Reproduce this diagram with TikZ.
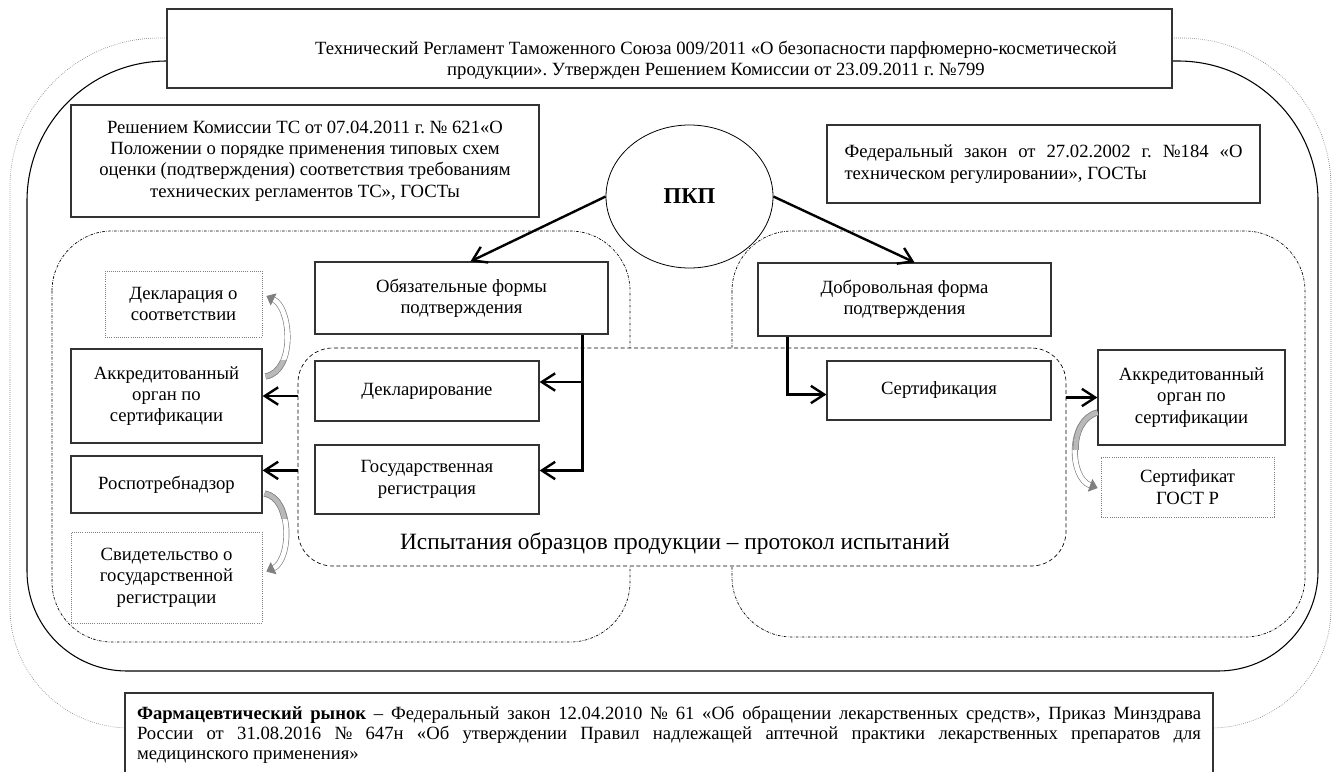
\documentclass[tikz,border=0pt]{standalone}
\usepackage{fontspec}
\setmainfont{Liberation Serif}
\usetikzlibrary{arrows.meta,shapes.geometric,calc,positioning}
\newcommand{\boxfont}{\fontsize{14}{16}\selectfont}
\frenchspacing

\begin{document}
\begin{tikzpicture}[x=0.75pt, y=-0.75pt,
		box/.style={draw=black!80, line width=.9pt, fill=white, align=center, inner sep=2pt, font=\boxfont},
		paperbox/.style={box, draw=gray, line width=.6pt, densely dotted},
		region/.style={line width=.5pt, dash pattern=on 2pt off 1pt on .5pt off 1pt},
		arr/.style={line width=1.8pt, -{Straight Barb[length=10pt, width=13pt]}},
		curvy/.style={draw=gray, line width=.5pt, double=white, double distance=3.5pt, -{Triangle[length=6pt, width=10pt]}},
		tail/.style={curvy, double=gray!55, -}]

	\clip (0,0) rectangle (1333,771);

	% frames and regions
	\draw[gray, line width=.5pt, densely dotted] (10,380) [rounded corners=112pt] |- (669,38) -| (1331,380) [rounded corners=90pt] |- (669,728) -| (10,380);
	\draw[line width=.8pt] (27,380) [rounded corners=105pt] |- (669,61) -| (1318,380) [rounded corners=75pt] |- (669,671) -| (27,380);
	\draw[region, rounded corners=45pt] (52,231) rectangle (630,642);
	\draw[region, rounded corners=45pt] (732,231) rectangle (1305,637);

	\node[draw, fill=white, line width=.5pt, densely dashed, rounded corners=26pt, minimum width=576pt, minimum height=163.5pt] at (682,457) (test) {};
	\node[font=\fontsize{17.5}{20}\selectfont] at ($(test.south)+(-7,-23)$) (testText) {Испытания образцов продукции – протокол испытаний};

	\node[box, minimum width=753.75pt, minimum height=59.25pt] at (669.5,48.5) (reglament) {};
	\node[font=\boxfont, align=center] at (716,60) (reglamentText) {Технический Регламент Таможенного Союза 009/2011 «О безопасности парфюмерно-косметической\\продукции». Утвержден Решением Комиссии от 23.09.2011 г. №799};

	\node[box, minimum width=351pt, minimum height=84pt] at (305,161) (reshenie) {Решением Комиссии ТС от 07.04.2011 г. № 621«О\\Положении о порядке применения типовых схем\\оценки (подтверждения) соответствия требованиям\\технических регламентов ТС», ГОСТы};
	\node[draw, ellipse, line width=.6pt, inner sep=0pt, minimum width=125.25pt, minimum height=107.25pt, font=\fontsize{17}{20}\selectfont\bfseries] at (689.5,196.5) (pkp) {ПКП};
	\node[box, minimum width=324.75pt, minimum height=58.5pt, text width=298.5pt, align=justify] at (1043.5,164) (fedzakon) {Федеральный закон от 27.02.2002 г. №184 «О\linebreak техническом регулировании», ГОСТы};

	\node[box, minimum width=219.75pt, minimum height=54pt] at (461.5,298) (obyaz) {Обязательные формы\\подтверждения};
	\node[box, minimum width=219.75pt, minimum height=54.75pt] at (904.5,299.5) (dobrov) {Добровольная форма\\подтверждения};
	\node[box, minimum width=168pt, minimum height=45pt] at (427,391) (deklarir) {Декларирование};
	\node[box, minimum width=168pt, minimum height=51.75pt] at (427,479.5) (gosreg) {Государственная\\регистрация};
	\node[box, minimum width=168pt, minimum height=44.25pt] at (939,390.5) (sertif) {Сертификация};

	\node[paperbox, minimum width=117.75pt, minimum height=49.5pt] at (183.5,304) (deklSoot) {Декларация о\\соответствии};
	\node[box, minimum width=143.25pt, minimum height=70.5pt] at (166.5,396) (akkL) {Аккредитованный\\орган по\\сертификации};
	\node[box, minimum width=143.25pt, minimum height=42.75pt] at (166.5,484.5) (rosp) {Роспотребнадзор};
	\node[paperbox, minimum width=143.25pt, minimum height=68.25pt] at (166.5,577.5) (svidet) {Свидетельство о\\государственной\\регистрации};
	\node[box, minimum width=140.25pt, minimum height=71.25pt] at (1191.5,397.5) (akkR) {Аккредитованный\\орган по\\сертификации};
	\node[paperbox, minimum width=129.75pt, minimum height=45pt] at (1187.5,487) (sertGost) {Сертификат\\ГОСТ Р};

	\node[box, minimum width=816pt, minimum height=63pt, text width=798pt, inner xsep=9pt, align=justify, font=\fontsize{14}{15}\selectfont] at (669,735) (farm) {\textbf{Фармацевтический рынок} – Федеральный закон 12.04.2010 № 61 «Об обращении лекарственных средств», Приказ Минздрава\linebreak России от 31.08.2016 № 647н «Об утверждении Правил надлежащей аптечной практики лекарственных препаратов для\linebreak медицинского применения»};

	% arrows
	\coordinate (obyazOut) at ($(obyaz.south east)+(-26,0)$);
	\coordinate (dobrovOut) at ($(dobrov.south west)+(30,0)$);
	\coordinate (rospIn) at ($(rosp.north east)+(0,15)$);

	\draw[arr] (pkp.west) -- ($(obyaz.north)+(9,0)$);
	\draw[arr] (pkp.east) -- ($(dobrov.north)+(10,0)$);
	\draw[arr] (obyazOut) |- ($(deklarir.east)+(0,-9)$);
	\draw[arr] (obyazOut) |- ($(gosreg.east)+(0,-9)$);
	\draw[arr] (dobrovOut) |- ($(sertif.west)+(0,4)$);
	\draw[arr] (test.west |- akkL.east) -- (akkL.east);
	\draw[arr] (test.west |- rospIn) -- (rospIn);
	\draw[arr] (test.east |- akkR.west) -- (akkR.west);

	% curved arrows to the documents
	\draw[curvy] ($(akkL.north east)+(3,28)$) .. controls +(30,-5) and +(25,12) .. ($(deklSoot.east)+(4,-8)$);
	\draw[curvy] ($(rosp.east)+(2,9)$) .. controls +(28,5) and +(25,-12) .. ($(svidet.north east)+(4,40)$);
	\draw[curvy] ($(akkR.west)+(0,15)$) .. controls +(-30,8) and +(-28,-10) .. ($(sertGost.west)+(-3,1)$);
	\begin{scope}
		\clip ($(akkL.north east)+(0,12)$) rectangle ($(akkL.north east)+(40,34)$);
		\draw[tail] ($(akkL.north east)+(3,28)$) .. controls +(30,-5) and +(25,12) .. ($(deklSoot.east)+(4,-8)$);
	\end{scope}
	\begin{scope}
		\clip ($(rosp.east)+(0,4)$) rectangle ($(rosp.east)+(40,34)$);
		\draw[tail] ($(rosp.east)+(2,9)$) .. controls +(28,5) and +(25,-12) .. ($(svidet.north east)+(4,40)$);
	\end{scope}
	\begin{scope}
		\clip ($(akkR.west)+(0,10)$) rectangle ($(akkR.west)+(-40,52)$);
		\draw[tail] ($(akkR.west)+(0,15)$) .. controls +(-30,8) and +(-28,-10) .. ($(sertGost.west)+(-3,1)$);
	\end{scope}
\end{tikzpicture}
\end{document}
